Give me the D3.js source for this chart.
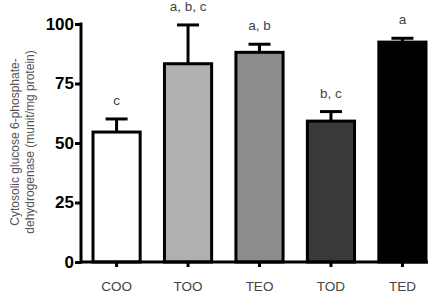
<!DOCTYPE html>
<html><head><meta charset="utf-8">
<script src="https://cdn.jsdelivr.net/npm/d3@7"></script>
<style>body{margin:0;background:#fff}svg{display:block}</style>
</head><body>
<script>
const categories = ["COO","TOO","TEO","TOD","TED"];
const means = [54.6, 83.3, 88.1, 59.2, 92.4];
const errors = [5.5, 16.3, 3.4, 4.0, 1.6];
const letters = ["c","a, b, c","a, b","b, c","a"];
const fills = ["#ffffff","#b0b0b0","#8c8c8c","#393939","#000000"];
const yTicks = [0,25,50,75,100];

const W=440,H=296;
const FONT="Liberation Sans, Arial, sans-serif";
const svg=d3.select("body").append("svg").attr("width",W).attr("height",H);
const x=d3.scaleBand().domain(categories).range([93,426]).paddingInner(0.34).paddingOuter(0);
const y=d3.scaleLinear().domain([0,100]).range([262,24]);

// bars
svg.selectAll("rect.bar").data(categories).enter().append("rect")
 .attr("x",d=>x(d)).attr("width",x.bandwidth())
 .attr("y",(d,i)=>y(means[i])).attr("height",(d,i)=>y(0)-y(means[i]))
 .attr("fill",(d,i)=>fills[i]).attr("stroke","#000").attr("stroke-width",3);

// error bars
categories.forEach((c,i)=>{
  const cx=x(c)+x.bandwidth()/2;
  svg.append("line").attr("x1",cx).attr("x2",cx).attr("y1",y(means[i])).attr("y2",y(means[i]+errors[i])).attr("stroke","#000").attr("stroke-width",3);
  svg.append("line").attr("x1",cx-11).attr("x2",cx+11).attr("y1",y(means[i]+errors[i])).attr("y2",y(means[i]+errors[i])).attr("stroke","#000").attr("stroke-width",3);
  svg.append("text").attr("x",cx).attr("y",y(means[i]+errors[i])-14)
   .attr("text-anchor","middle").attr("font-family",FONT)
   .attr("font-size",13.5).attr("fill","#444").text(letters[i]);
});

// y axis
const ya=svg.append("g").attr("transform","translate(81,0)")
 .call(d3.axisLeft(y).tickValues(yTicks).tickSize(6).tickPadding(1));
ya.select(".domain").attr("stroke-width",3).attr("d","M0,"+(y(100)-1.5)+"V"+(y(0)+1.5));
ya.selectAll(".tick line").attr("stroke-width",3);
ya.selectAll("text").attr("font-family",FONT).attr("font-size",17).attr("font-weight","bold").attr("fill","#000");

// x axis
const xa=svg.append("g").attr("transform","translate(0,262)")
 .call(d3.axisBottom(x).tickSize(5).tickPadding(14));
xa.select(".domain").attr("stroke-width",3).attr("d","M79.5,0H428");
xa.selectAll(".tick line").attr("stroke-width",3);
xa.selectAll("text").attr("font-family",FONT).attr("font-size",13.5).attr("fill","#444");

// y label
const yl=svg.append("text").attr("transform","translate(0,142) rotate(-90)")
 .attr("text-anchor","middle").attr("font-family",FONT)
 .attr("font-size",12).attr("fill","#555");
yl.append("tspan").attr("x",0).attr("y",19).text("Cytosolic glucose 6-phosphate-");
yl.append("tspan").attr("x",0).attr("y",34).text("dehydrogenase (munit/mg protein)");
</script>
</body></html>
